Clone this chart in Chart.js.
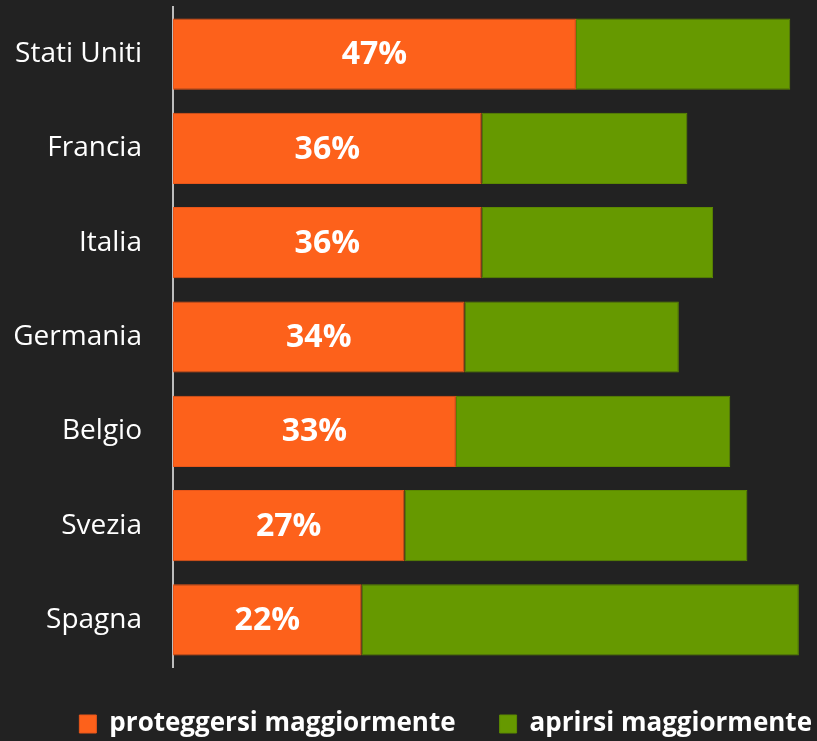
<!DOCTYPE html>
<html>
<head>
<meta charset="utf-8">
<script src="https://cdn.jsdelivr.net/npm/chart.js@4/dist/chart.umd.min.js"></script>
<style>
  html, body { margin: 0; padding: 0; background: #222222; }
  #wrap { width: 817px; height: 741px; }
</style>
</head>
<body>
<div id="wrap"><canvas id="chart"></canvas></div>
<script>
const countries = ['Stati Uniti', 'Francia', 'Italia', 'Germania', 'Belgio', 'Svezia', 'Spagna'];
const protect = [47, 36, 36, 34, 33, 27, 22];
const open = [25, 24, 27, 25, 32, 40, 51];
const seriesNames = ['proteggersi maggiormente', 'aprirsi maggiormente'];

const FONT = "'Open Sans', 'Noto Sans', sans-serif";

// percent labels inside the orange bars
const barLabels = {
  id: 'barLabels',
  afterDatasetsDraw(chart) {
    const ctx = chart.ctx;
    const meta = chart.getDatasetMeta(0);
    ctx.save();
    ctx.fillStyle = '#ffffff';
    ctx.font = 'bold 32px ' + FONT;
    ctx.textAlign = 'center';
    ctx.textBaseline = 'middle';
    meta.data.forEach((bar, i) => {
      const cx = (bar.x + bar.base) / 2;
      ctx.fillText(protect[i] + '%', cx, bar.y + 1);
    });
    ctx.restore();
  }
};

// legend: keep its box short but its items spaced wide, and push it to the right
const EXTRA = 40;
const legendTweak = {
  id: 'legendTweak',
  beforeLayout(chart) {
    const legend = chart.legend;
    if (legend && !legend._tweaked) {
      const fit = legend.fit;
      legend.fit = function () {
        this.maxWidth += EXTRA;
        fit.call(this);
        this.maxWidth -= EXTRA;
        this.width = this.maxWidth;
        this.height = 74;
      };
      legend._tweaked = true;
    }
  },
  afterLayout(chart) {
    if (chart.legend) chart.legend.right += EXTRA;
  }
};

new Chart(document.getElementById('chart'), {
  type: 'bar',
  data: {
    labels: countries,
    datasets: [{
      label: seriesNames[0],
      data: protect,
      backgroundColor: '#fd611b',
      borderColor: '#e8561a',
      borderWidth: 1,
      borderSkipped: false
    }, {
      label: seriesNames[1],
      data: open,
      backgroundColor: '#669900',
      borderColor: '#5c8a00',
      borderWidth: 1,
      borderSkipped: false
    }]
  },
  options: {
    indexAxis: 'y',
    responsive: true,
    maintainAspectRatio: false,
    animation: false,
    layout: { padding: { top: 7, right: 1, left: 0, bottom: 0 } },
    datasets: { bar: { categoryPercentage: 1, barPercentage: 0.755 } },
    scales: {
      x: {
        stacked: true,
        min: 0,
        max: 75,
        display: false
      },
      y: {
        stacked: true,
        grid: { display: false, drawTicks: false },
        border: { display: true, color: '#bdbdbd', width: 2 },
        ticks: {
          color: '#ffffff',
          font: { family: FONT, size: 28 },
          padding: 31
        },
        afterFit(scale) {
          scale.width = 173;
          scale.paddingTop = 0;
          scale.paddingBottom = 0;
        }
      }
    },
    plugins: {
      legend: {
        position: 'bottom',
        align: 'end',
        labels: {
          color: '#ffffff',
          font: { family: FONT, size: 26, weight: 'bold' },
          boxWidth: 17,
          boxHeight: 18,
          padding: 44
        }
      },
      tooltip: { enabled: false }
    }
  },
  plugins: [barLabels, legendTweak]
});
</script>
</body>
</html>
